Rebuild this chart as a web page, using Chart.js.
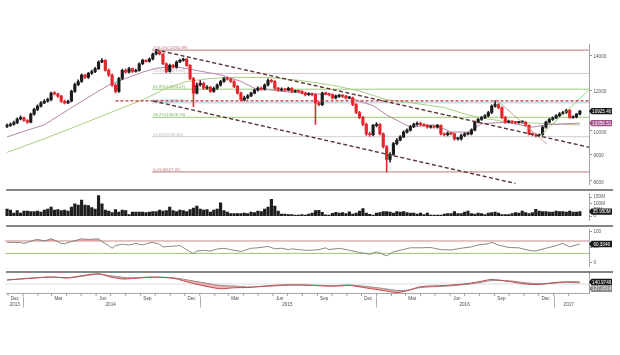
<!DOCTYPE html>
<html>
<head>
<meta charset="utf-8">
<script src="https://cdn.jsdelivr.net/npm/chart.js@4.4.1/dist/chart.umd.min.js"></script>
<style>
html,body{margin:0;padding:0;background:#ffffff;}
body{width:620px;height:355px;position:relative;overflow:hidden;}
canvas{position:absolute;left:0;}
</style>
</head>
<body>
<canvas id="cMain" width="620" height="189" style="top:0px"></canvas>
<canvas id="cVol" width="620" height="36" style="top:189px"></canvas>
<canvas id="cRsi" width="620" height="46" style="top:225px"></canvas>
<canvas id="cInd" width="620" height="84" style="top:271px"></canvas>
<script>
// ---------------- DATA (weekly, first week = 2013-11-29) ----------------
const weekStart = '2013-11-29';

const opens = [
10200,10250,10300,10380,10550,10620,10480,10400,10780,11010,
11170,11340,11420,11500,11845,11800,11680,11420,11340,11420,
11930,12300,12470,12830,12700,12940,13040,13200,13610,13710,
13110,12830,12280,11930,12640,13110,13000,13210,13040,13110,
13500,13710,13650,13790,14100,14240,14100,13500,13040,13400,
13300,13610,13710,13790,13400,12640,11845,12280,12370,12105,
12150,11930,12100,12280,12470,12640,12600,12470,12200,11845,
11500,11590,11700,11845,12000,12105,12050,12280,12540,12480,
12105,12000,12050,12000,12100,11930,11950,11930,11845,11760,
11800,11760,11340,11250,11845,11800,11760,11590,11680,11700,
11680,11590,11600,11250,10860,10620,10300,9870,9830,10250,
10300,9870,9320,8810,9000,9450,9600,9740,9950,10040,
10200,10300,10350,10300,10250,10170,10200,10170,10250,9870,
9830,9900,9870,9650,9650,9800,9870,9870,10040,10400,
10530,10620,10700,10860,11170,11250,11100,10620,10400,10450,
10400,10380,10400,10400,10250,9870,9830,9800,9830,10170,
10400,10530,10600,10710,10800,10860,10960,10620,10650,10780
];
const highs = [
10320,10370,10450,10600,10700,10640,10520,10830,11080,11240,
11400,11500,11580,11900,11920,11850,11720,11480,11480,12000,
12380,12560,12900,12880,13000,13120,13280,13680,13820,13760,
13200,12900,12350,12700,13180,13200,13280,13240,13180,13560,
13780,13760,13860,14160,14350,14300,14150,13560,13480,13460,
13680,13780,13850,13820,13450,12700,12400,12520,12420,12250,
12200,12160,12340,12540,12700,12720,12660,12520,12260,11900,
11680,11760,11900,12060,12180,12160,12340,12620,12600,12520,
12150,12120,12100,12160,12140,12000,12000,11980,11900,11860,
11840,11800,11400,11900,11900,11840,11800,11740,11760,11760,
11720,11660,11640,11300,10920,10680,10360,9950,10300,10380,
10340,9920,9380,9080,9500,9660,9800,10000,10100,10260,
10360,10420,10400,10340,10300,10260,10240,10300,10280,9920,
9960,9940,9900,9720,9860,9920,9930,10100,10450,10580,
10680,10760,10920,11240,11450,11300,11140,10680,10500,10480,
10440,10440,10460,10430,10280,9920,9880,9860,10220,10450,
10580,10650,10760,10850,10920,11030,11000,10700,10820,10960
];
const lows = [
10150,10200,10260,10330,10500,10430,10340,10360,10730,10950,
11120,11290,11370,11440,11740,11620,11360,11280,11300,11380,
11880,12240,12420,12640,12650,12880,12980,13160,13560,13060,
12760,12200,11850,11880,12580,12940,12950,12980,13000,13060,
13440,13600,13600,13740,14050,14040,13440,12980,13000,13240,
13240,13560,13660,13340,12580,11150,11800,12220,12040,12040,
11880,11880,12040,12220,12420,12540,12420,12140,11780,11440,
11440,11540,11650,11800,11950,12000,12000,12220,12420,12040,
11940,11960,11950,11960,11880,11880,11880,11800,11700,11720,
11700,10300,11180,11200,11740,11700,11540,11540,11620,11620,
11540,11540,11200,10800,10560,10240,9800,9760,9780,10180,
9820,9260,8327,8700,8960,9400,9560,9700,9900,9990,
10150,10250,10240,10200,10120,10120,10120,10120,9820,9780,
9780,9820,9600,9600,9600,9750,9820,9820,10000,10360,
10480,10560,10650,10800,11120,11040,10560,10340,10360,10350,
10330,10340,10350,10200,9820,9780,9740,9760,9800,10120,
10360,10480,10560,10660,10750,10820,10580,10580,10600,10740
];
const closes = [
10250,10300,10380,10550,10620,10480,10400,10780,11010,11170,
11340,11420,11500,11845,11800,11680,11420,11340,11420,11930,
12300,12470,12830,12700,12940,13040,13200,13610,13710,13110,
12830,12280,11930,12640,13110,13000,13210,13040,13110,13500,
13710,13650,13790,14100,14240,14100,13500,13040,13400,13300,
13610,13710,13790,13400,12640,11845,12280,12370,12105,12150,
11930,12100,12280,12470,12640,12600,12470,12200,11845,11500,
11590,11700,11845,12000,12105,12050,12280,12540,12480,12105,
12000,12050,12000,12100,11930,11950,11930,11845,11760,11800,
11760,11340,11250,11845,11800,11760,11590,11680,11700,11680,
11590,11600,11250,10860,10620,10300,9870,9830,10250,10300,
9870,9320,8810,9000,9450,9600,9740,9950,10040,10200,
10300,10350,10300,10250,10170,10200,10170,10250,9870,9830,
9900,9870,9650,9650,9800,9870,9870,10040,10400,10530,
10620,10700,10860,11170,11250,11100,10620,10400,10450,10400,
10380,10400,10400,10250,9870,9830,9800,9830,10170,10400,
10530,10600,10710,10800,10860,10960,10620,10650,10780,10925.40
];
// weekly volume, millions
const volumes = [
56,48,24,44,24,40,40,36,36,40,
32,48,56,72,48,52,44,48,40,72,
96,88,126,88,84,68,56,162,96,48,
40,28,52,32,48,44,12,32,32,32,
32,28,32,36,36,48,40,44,72,44,
36,48,44,36,52,64,80,56,48,52,
32,48,56,104,44,32,20,20,20,20,
24,20,32,28,40,36,56,72,132,80,
40,16,16,12,12,8,8,12,8,16,
24,44,46,30,10,8,22,30,24,28,
20,34,16,24,40,60,24,14,8,24,
28,36,36,32,24,36,32,36,28,24,
24,16,24,12,24,8,8,8,8,16,
20,20,36,20,20,32,40,20,16,24,
20,12,24,28,32,24,12,12,12,20,
28,24,40,28,20,28,54,40,36,36,
32,32,40,36,36,32,40,32,32,35.95
];
// moving averages [week index, value]
const maShort = [[0,9739],[11,10280],[20,11200],[26,11845],[30,12270],[35,12640],[40,13000],[44,13230],[49,13340],[54,13180],[57,13060],[63,12850],[69,12480],[73,12100],[83,11900],[96,11740],[101,11590],[108,11200],[112,10740],[119,10170],[126,10280],[131,9950],[136,9950],[140,10330],[147,10400],[155,10170],[159,10280],[169,10356.51]];
const maLong = [[0,9086],[11,9656],[22,10307],[32,10953],[40,11490],[47,12100],[53,12470],[60,12640],[66,12700],[77,12700],[86,12540],[96,12270],[104,11950],[112,11500],[116,11420],[129,11100],[136,10740],[142,10550],[148,10400],[155,10360],[169,10270]];
// trend lines [week index, price]
const channelUpper = [[43.7,14380],[172,9290]];
const channelLower = [[43.1,11430],[150,7910]];
const resistance = [[32,11440],[171.7,11440]];
const riseLine = [[157,9740],[171.5,11980]];
const fallLine = [[144.5,11470],[159.3,9430]];
// Fibonacci retracement
const fibStart = 42.8;
const fibLevels = [14350.88,12929.84,12050.47,11339.12,10628.19,9746.81,8327.35];
const fibLabels = ['100.0%(14350.88)','76.4%(12929.84)','61.8%(12050.47)','50.0%(11339.12)','38.2%(10628.19)','23.6%(9746.81)','0.0%(8327.35)'];
const fibColors = ['#b87c7c','#d8c4ce','#9ccb7e','#aacbe0','#9ccb7e','#cfcfcf','#b87c7c'];
const fibTextColors = ['#b87c7c','#c9b3bf','#78b058','#8fb4cc','#78b058','#b5b5b5','#b87c7c'];
// RSI [week index, value]
const rsi = [[0,65.5],[4,65.5],[5,62],[8,72.8],[9,75],[11,70],[13,77],[14,72.8],[16,62],[17,61],[19,68],[22,77],[24,75],[25,75.5],[27,77],[28,68],[30,55],[31,46.5],[32,55],[34,59.6],[36,57],[38,62],[40,57],[42,64],[43,65.5],[45,59.6],[46,51],[48,52.5],[51,55],[53,42],[55,29],[56,37.7],[58,39.5],[60,37.7],[62,44],[64,46.5],[66,42],[69,36],[72,46.5],[74,48],[77,52.5],[79,44.7],[81,46.5],[83,42],[84,44.7],[86,42],[89,39.5],[92,42],[94,48],[95,42],[98,46.5],[101,40],[104,33],[107,27],[109,35],[112,22],[114,35],[116,40],[119,48],[122,48],[125,49],[128,42],[131,41],[134,46.5],[137,51],[139,57],[142,61],[143,65.5],[145,57],[148,49],[151,48],[154,39.5],[156,37.7],[159,46.5],[162,55],[164,62],[166,51],[169,60.3346]];
const rsiLevels = [70,30];
// lower indicator
const indIdx  = [0,8,13,18,22,27,30,34,37,43,49,52,55,59,63,67,71,77,83,89,96,101,106,111,115,118,122,129,136,140,143,148,153,157,161,165,169];
const indMain = [149,157,161,158,166,174,163,153,155,160,156,146,135,123,114,118,119,126,130,128,124,127,117,107,99,106,122,127,135,144,151,143,133,131,138,142,140.9749];
const indSig  = [149,157,161,157,164,172,167,160,158,161,158,152,145,136,127,125,121,124,128,129,126,129,123,115,107,108,119,124,132,140,147,146,138,134,136,140,137.2814];
const indRef = 133;
// axis ticks
const priceTicks = [8000,9000,10000,12000,14000];
const volTicks = [0,50,100,150];
const volTickLabels = ['0','50M','100M','150M'];
const rsiTicks = [0,50,100];
const quarterLabels = ['Dec','Mar','Jun','Sep','Dec','Mar','Jun','Sep','Dec','Mar','Jun','Sep','Dec'];
const quarterDates = ['2013-12-15','2014-03-15','2014-06-15','2014-09-15','2014-12-15','2015-03-15','2015-06-15','2015-09-15','2015-12-15','2016-03-15','2016-06-15','2016-09-15','2016-12-15'];
const yearLabels = ['2013','2014','2015','2016','2017'];
const yearLabelDates = ['2013-12-15','2014-07-01','2015-07-01','2016-07-01','2017-02-01'];
const yearSepDates = ['2014-01-01','2015-01-01','2016-01-01','2017-01-01'];

// ---------------- STYLE / LAYOUT ----------------
const FONT = "'Liberation Sans', Arial, sans-serif";
const UP = '#1c1c1c', DOWN = '#e3262b';
const X_MIN = -0.6, X_MAX = 171.7, AXIS_W = 31, PAD_L = 5;

function dIdx(s){ return (Date.parse(s) - Date.parse(weekStart)) / (7*864e5); }
function pts(a){ return a.map(p => ({x:p[0], y:p[1]})); }
function xAxis(){ return {type:'linear', min:X_MIN, max:X_MAX, offset:false, display:false, grid:{offset:false}}; }
function yAxis(extra, ticks){
  return Object.assign({
    position:'right',
    afterFit(s){ s.width = AXIS_W; },
    border:{display:true, color:'#a3a3a3', width:1},
    grid:{drawOnChartArea:false, drawTicks:true, tickLength:3, tickColor:'#777', tickWidth:0.8},
    ticks:Object.assign({color:'#555', font:{family:FONT, size:4.6}, padding:1.5, autoSkip:false, maxRotation:0}, ticks||{})
  }, extra);
}
function lineDs(data, color, width, dash, order){
  return {type:'line', data, borderColor:color, borderWidth:width, borderDash:dash||[], pointRadius:0, tension:0, fill:false, order};
}
function valueBox(ctx, y, text, bg, fg, border){
  const x0 = 589, x1 = 612, h = 6.4;
  ctx.save();
  ctx.beginPath();
  ctx.moveTo(x0, y); ctx.lineTo(x0+2.5, y-h/2); ctx.lineTo(x1, y-h/2);
  ctx.lineTo(x1, y+h/2); ctx.lineTo(x0+2.5, y+h/2); ctx.closePath();
  ctx.fillStyle = bg; ctx.fill();
  if (border){ ctx.strokeStyle = border; ctx.lineWidth = 0.6; ctx.stroke(); }
  ctx.fillStyle = fg; ctx.font = '4.6px ' + FONT;
  ctx.textAlign = 'center'; ctx.textBaseline = 'middle';
  ctx.fillText(text, (x0+x1)/2 + 1.2, y + 0.3);
  ctx.restore();
}
function separator(ctx){
  ctx.save(); ctx.strokeStyle = '#5e5e5e'; ctx.lineWidth = 1.6;
  ctx.beginPath(); ctx.moveTo(6, 1); ctx.lineTo(613, 1); ctx.stroke(); ctx.restore();
}
const common = {responsive:false, animation:false, devicePixelRatio:1, events:[],
  plugins:{legend:{display:false}, tooltip:{enabled:false}}};

const candleColor = c => closes[c.dataIndex] >= opens[c.dataIndex] ? UP : DOWN;

// ---------------- MAIN PRICE CHART ----------------
const mainDatasets = [
  lineDs(pts(channelUpper), '#5b3333', 1.4, [4,2.5], 1),
  lineDs(pts(channelLower), '#5b3333', 1.4, [4,2.5], 1),
  lineDs(pts(resistance), '#b63232', 1.4, [3,2], 1),
  lineDs(pts(riseLine), '#96c878', 0.9, [], 1),
  lineDs(pts(fallLine), '#c99494', 0.9, [], 1),
  {type:'bar', data: closes.map((c,i)=>({x:i, y:[opens[i], c]})), backgroundColor:candleColor,
   barThickness:2.5, minBarLength:1, grouped:false, order:2},
  {type:'bar', data: closes.map((c,i)=>({x:i, y:[lows[i], highs[i]]})), backgroundColor:candleColor,
   barThickness:0.9, grouped:false, order:3},
  lineDs(pts(maShort), '#b584a8', 1, [], 4),
  lineDs(pts(maLong), '#a9cd84', 1, [], 4)
];
fibLevels.forEach((v,k)=>{
  mainDatasets.push(lineDs([{x:fibStart,y:v},{x:X_MAX,y:v}], fibColors[k], 1, [], 5));
});

new Chart(document.getElementById('cMain'), {
  type:'bar',
  data:{datasets: mainDatasets},
  options: Object.assign({}, common, {
    layout:{padding:{left:PAD_L, right:0, top:44, bottom:1}},
    scales:{
      x: xAxis(),
      y: yAxis({type:'logarithmic', min:7864, max:14747, bounds:'data',
        afterBuildTicks(s){ s.ticks = priceTicks.map(v=>({value:v})); }},
        {labelOffset:1.5, callback:(v)=>String(v)})
    }
  }),
  plugins:[{
    id:'mainDeco',
    beforeDatasetsDraw(chart){
      const ctx = chart.ctx, xs = chart.scales.x, ys = chart.scales.y;
      ctx.save(); ctx.font = '4.2px ' + FONT; ctx.textBaseline = 'alphabetic'; ctx.textAlign = 'left';
      fibLevels.forEach((v,k)=>{
        ctx.fillStyle = fibTextColors[k];
        ctx.fillText(fibLabels[k], xs.getPixelForValue(fibStart)+1, ys.getPixelForValue(v)-1);
      });
      ctx.restore();
    },
    afterDraw(chart){
      const ys = chart.scales.y, ctx = chart.ctx;
      const last = closes[closes.length-1];
      const maLast = maShort[maShort.length-1][1];
      valueBox(ctx, ys.getPixelForValue(last), last.toFixed(2), '#1a1a1a', '#ffffff');
      valueBox(ctx, ys.getPixelForValue(maLast), maLast.toFixed(2), '#a2508c', '#ffffff');
    }
  }]
});

// ---------------- VOLUME ----------------
new Chart(document.getElementById('cVol'), {
  type:'bar',
  data:{datasets:[{data: volumes.map((v,i)=>({x:i, y:v})), backgroundColor:'#1e1e1e', barThickness:2.5}]},
  options: Object.assign({}, common, {
    layout:{padding:{left:PAD_L, right:0, top:0, bottom:0}},
    scales:{
      x: xAxis(),
      y: yAxis({type:'linear', min:-36, max:180,
        afterBuildTicks(s){ s.ticks = volTicks.map(v=>({value:v})); }},
        {callback:(v)=>volTickLabels[volTicks.indexOf(v)]})
    }
  }),
  plugins:[{id:'volDeco', afterDraw(chart){
    separator(chart.ctx);
    const last = volumes[volumes.length-1];
    valueBox(chart.ctx, chart.scales.y.getPixelForValue(last), last.toFixed(3)+'M', '#1a1a1a', '#ffffff');
  }}]
});

// ---------------- RSI ----------------
new Chart(document.getElementById('cRsi'), {
  type:'line',
  data:{datasets:[
    {data: pts(rsi), borderColor:'#7b7b7b', borderWidth:0.9, pointRadius:0, tension:0,
     fill:{value:70, above:'rgba(236,128,128,0.55)', below:'rgba(0,0,0,0)'}},
    lineDs([{x:X_MIN,y:rsiLevels[0]},{x:X_MAX,y:rsiLevels[0]}], '#c98a8a', 1, [], 5),
    lineDs([{x:X_MIN,y:rsiLevels[1]},{x:X_MAX,y:rsiLevels[1]}], '#94c878', 1, [], 5)
  ]},
  options: Object.assign({}, common, {
    layout:{padding:{left:PAD_L, right:0, top:0, bottom:0}},
    scales:{
      x: xAxis(),
      y: yAxis({type:'linear', min:-13.2, max:107.9,
        afterBuildTicks(s){ s.ticks = rsiTicks.map(v=>({value:v})); }},
        {callback:(v)=>String(v)})
    }
  }),
  plugins:[{id:'rsiDeco', afterDraw(chart){
    separator(chart.ctx);
    const last = rsi[rsi.length-1][1];
    valueBox(chart.ctx, chart.scales.y.getPixelForValue(last), last.toFixed(4), '#1a1a1a', '#ffffff');
  }}]
});

// ---------------- LOWER INDICATOR + DATE AXIS ----------------
new Chart(document.getElementById('cInd'), {
  type:'line',
  data:{datasets:[
    {data: indIdx.map((x,k)=>({x, y:indMain[k]})), borderColor:'#c24a4a', borderWidth:1, pointRadius:0, tension:0.3,
     fill:{target:1, above:'rgba(0,0,0,0)', below:'rgba(226,112,112,0.55)'}, order:1},
    {data: indIdx.map((x,k)=>({x, y:indSig[k]})), borderColor:'#8c8c8c', borderWidth:1, pointRadius:0, tension:0.3, fill:false, order:2},
    lineDs([{x:X_MIN,y:indRef},{x:X_MAX,y:indRef}], '#d2d2d2', 0.8, [], 6)
  ]},
  options: Object.assign({}, common, {
    layout:{padding:{left:PAD_L, right:0, top:0, bottom:62}},
    scales:{
      x: xAxis(),
      y: yAxis({type:'linear', min:97, max:185, grid:{drawOnChartArea:false, drawTicks:false}}, {display:false})
    }
  }),
  plugins:[{id:'indDeco', afterDraw(chart){
    const ctx = chart.ctx, xs = chart.scales.x, ys = chart.scales.y, a = chart.chartArea;
    separator(ctx);
    const yb = a.bottom + 0.5;
    ctx.save();
    ctx.strokeStyle = '#a8a8a8'; ctx.lineWidth = 1;
    ctx.beginPath(); ctx.moveTo(6, yb); ctx.lineTo(589, yb); ctx.stroke();
    // month tick marks
    ctx.strokeStyle = '#888'; ctx.lineWidth = 0.8;
    for (let y = 2013, m = 12; y < 2017 || (y === 2017 && m <= 2); ){
      const s = y + '-' + String(m).padStart(2,'0') + '-01';
      const px = xs.getPixelForValue(dIdx(s));
      if (px > a.left && px < a.right){ ctx.beginPath(); ctx.moveTo(px, yb); ctx.lineTo(px, yb+2.5); ctx.stroke(); }
      m++; if (m > 12){ m = 1; y++; }
    }
    // year separators
    ctx.strokeStyle = '#9a9a9a';
    yearSepDates.forEach(s=>{
      const px = Math.round(xs.getPixelForValue(dIdx(s))) + 0.5;
      ctx.beginPath(); ctx.moveTo(px, yb+3); ctx.lineTo(px, yb+14); ctx.stroke();
    });
    ctx.fillStyle = '#4a4a4a'; ctx.font = '4.6px ' + FONT; ctx.textAlign = 'center'; ctx.textBaseline = 'middle';
    quarterLabels.forEach((t,k)=> ctx.fillText(t, xs.getPixelForValue(dIdx(quarterDates[k])), yb + 5));
    yearLabels.forEach((t,k)=> ctx.fillText(t, xs.getPixelForValue(dIdx(yearLabelDates[k])), yb + 11.5));
    ctx.restore();
    const lm = indMain[indMain.length-1], ls = indSig[indSig.length-1];
    const ym = ys.getPixelForValue(lm);
    const ysg = Math.max(ys.getPixelForValue(ls), ym + 6.8);
    valueBox(ctx, ysg, ls.toFixed(4), '#8e8e8e', '#e8e8e8');
    valueBox(ctx, ym, lm.toFixed(4), '#1a1a1a', '#ffffff');
  }}]
});
</script>
</body>
</html>
